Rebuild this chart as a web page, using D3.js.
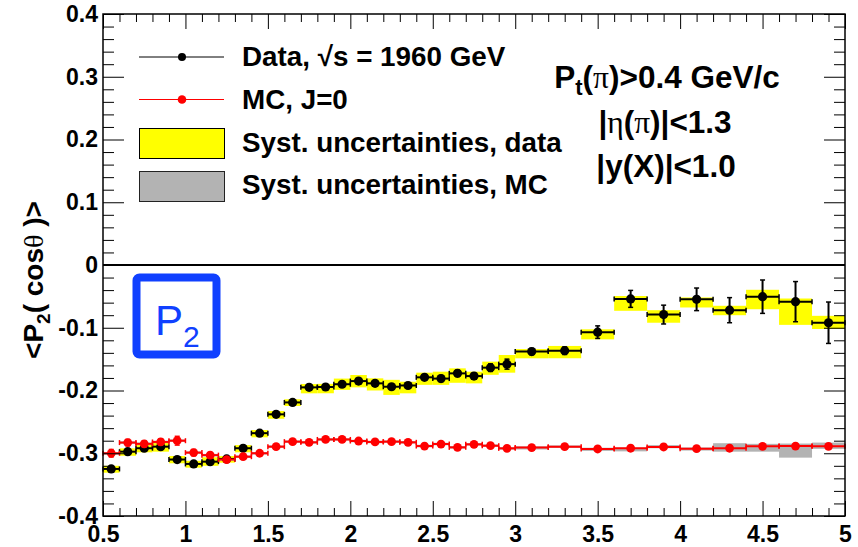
<!DOCTYPE html>
<html>
<head>
<meta charset="utf-8">
<script src="https://cdn.jsdelivr.net/npm/d3@7"></script>
<style>
  body { margin: 0; background: #fff; }
  svg { display: block; }
</style>
</head>
<body>
<div id="chart"></div>
<script>
// bin edges (0.1 wide up to 3.0, then 0.2 wide)
const binEdges = [0.5, 0.6, 0.7, 0.8, 0.9, 1.0, 1.1, 1.2, 1.3, 1.4, 1.5, 1.6, 1.7, 1.8, 1.9, 2.0,
    2.1, 2.2, 2.3, 2.4, 2.5, 2.6, 2.7, 2.8, 2.9, 3.0, 3.2, 3.4, 3.6, 3.8, 4.0, 4.2, 4.4, 4.6, 4.8, 5.0];

// data, sqrt(s) = 1960 GeV
const dataY = [-0.325, -0.2975, -0.292, -0.2895, -0.310, -0.317, -0.3134, -0.309, -0.292, -0.268,
    -0.238, -0.219, -0.195, -0.1944, -0.190, -0.185, -0.1886, -0.194, -0.192, -0.179,
    -0.181, -0.1727, -0.177, -0.1636, -0.158, -0.138, -0.1366, -0.107, -0.054, -0.079,
    -0.0547, -0.072, -0.0505, -0.0584, -0.092];
const dataStat = [0.004, 0.004, 0.004, 0.004, 0.004, 0.004, 0.004, 0.004, 0.004, 0.004,
    0.004, 0.004, 0.004, 0.004, 0.004, 0.004, 0.004, 0.004, 0.004, 0.004,
    0.005, 0.005, 0.005, 0.006, 0.008, 0.005, 0.006, 0.010, 0.0135, 0.015,
    0.018, 0.020, 0.0266, 0.032, 0.033];
const dataSysUp = [0.005, 0.0053, 0.006, 0.006, 0.0056, 0.005, 0.007, 0.0045, 0.005, 0.005,
    0.0053, 0.005, 0.0054, 0.005, 0.009, 0.0097, 0.008, 0.011, 0.006, 0.0074,
    0.011, 0.008, 0.007, 0.0096, 0.0146, 0.004, 0.0076, 0.0045, 0.0046, 0.007,
    0.003, 0.007, 0.011, 0.005, 0.011];
const dataSysDn = [0.006, 0.0065, 0.0065, 0.008, 0.006, 0.006, 0.0066, 0.006, 0.0065, 0.0066,
    0.007, 0.0057, 0.0095, 0.010, 0.009, 0.010, 0.0114, 0.013, 0.0125, 0.012,
    0.010, 0.015, 0.0116, 0.0114, 0.0136, 0.0107, 0.012, 0.0115, 0.019, 0.013,
    0.013, 0.008, 0.020, 0.037, 0.010];

// MC, J=0
const mcY = [-0.300, -0.283, -0.285, -0.282, -0.280, -0.299, -0.303, -0.310, -0.3055, -0.300,
    -0.2895, -0.2815, -0.2826, -0.278, -0.278, -0.2805, -0.282, -0.2815, -0.2826, -0.2885,
    -0.2853, -0.2906, -0.2858, -0.288, -0.2922, -0.291, -0.2895, -0.2932, -0.292, -0.290,
    -0.2927, -0.292, -0.289, -0.2885, -0.289];
const mcStat = [0.006, 0.005, 0.005, 0.005, 0.007, 0.005, 0.004, 0.004, 0.004, 0.004,
    0.004, 0.003, 0.003, 0.003, 0.003, 0.003, 0.003, 0.003, 0.003, 0.003,
    0.003, 0.003, 0.003, 0.003, 0.003, 0.003, 0.003, 0.003, 0.003, 0.003,
    0.003, 0.003, 0.003, 0.003, 0.003];
const mcSysUp = [0.002, 0.002, 0.002, 0.002, 0.002, 0.002, 0.002, 0.002, 0.002, 0.002,
    0.002, 0.002, 0.002, 0.002, 0.002, 0.002, 0.002, 0.002, 0.002, 0.002,
    0.002, 0.002, 0.002, 0.002, 0.002, 0.002, 0.002, 0.002, 0.001, 0.003,
    0.002, 0.008, 0.004, 0.004, 0.006];
const mcSysDn = [0.002, 0.002, 0.002, 0.002, 0.002, 0.002, 0.002, 0.002, 0.002, 0.002,
    0.002, 0.002, 0.002, 0.002, 0.002, 0.002, 0.002, 0.002, 0.002, 0.002,
    0.002, 0.002, 0.002, 0.002, 0.002, 0.003, 0.002, 0.003, 0.005, 0.002,
    0.003, 0.0055, 0.0085, 0.0185, 0.004];

const xTicks = [0.5, 1, 1.5, 2, 2.5, 3, 3.5, 4, 4.5, 5];
const xTickLabels = ["0.5", "1", "1.5", "2", "2.5", "3", "3.5", "4", "4.5", "5"];
const yTicks = [-0.4, -0.3, -0.2, -0.1, 0, 0.1, 0.2, 0.3, 0.4];
const yTickLabels = ["-0.4", "-0.3", "-0.2", "-0.1", "0", "0.1", "0.2", "0.3", "0.4"];

const W = 858, H = 547;
const margin = {top: 14, right: 13, bottom: 31, left: 103},
    width = W - margin.left - margin.right,
    height = H - margin.top - margin.bottom;

const sans = "'Liberation Sans', Arial, Helvetica, sans-serif";
const serif = "'Liberation Serif', 'DejaVu Serif', serif";

const svg = d3.select("#chart").append("svg")
    .attr("width", W)
    .attr("height", H);

const g = svg.append("g")
    .attr("transform", `translate(${margin.left},${margin.top})`);

const x = d3.scaleLinear().domain([0.5, 5]).range([0, width]);
const y = d3.scaleLinear().domain([-0.4, 0.4]).range([height, 0]);

const bins = dataY.map((v, i) => ({
    lo: binEdges[i], hi: binEdges[i + 1], c: (binEdges[i] + binEdges[i + 1]) / 2,
    d: v, ds: dataStat[i], dup: dataSysUp[i], ddn: dataSysDn[i],
    m: mcY[i], ms: mcStat[i], mup: mcSysUp[i], mdn: mcSysDn[i]
}));

// systematic boxes
g.selectAll("rect.sysdata").data(bins).enter().append("rect")
    .attr("x", d => x(d.lo))
    .attr("width", d => x(d.hi) - x(d.lo))
    .attr("y", d => y(d.d + d.dup))
    .attr("height", d => y(d.d - d.ddn) - y(d.d + d.dup))
    .attr("fill", "#ffff00");

g.selectAll("rect.sysmc").data(bins).enter().append("rect")
    .attr("x", d => x(d.lo))
    .attr("width", d => x(d.hi) - x(d.lo))
    .attr("y", d => y(d.m + d.mup))
    .attr("height", d => y(d.m - d.mdn) - y(d.m + d.mup))
    .attr("fill", "#b3b3b3");

// zero line
g.append("line")
    .attr("x1", 0).attr("x2", width)
    .attr("y1", y(0)).attr("y2", y(0))
    .attr("stroke", "#000").attr("stroke-width", 2);

function drawPoints(key, errKey, color, r) {
    const grp = g.append("g");
    const pts = grp.selectAll("g").data(bins).enter().append("g");
    // horizontal bar
    pts.append("line")
        .attr("x1", d => x(d.lo)).attr("x2", d => x(d.hi))
        .attr("y1", d => y(d[key])).attr("y2", d => y(d[key]))
        .attr("stroke", color).attr("stroke-width", 2);
    pts.append("line")
        .attr("x1", d => x(d.lo)).attr("x2", d => x(d.lo))
        .attr("y1", d => y(d[key]) - 2.5).attr("y2", d => y(d[key]) + 2.5)
        .attr("stroke", color).attr("stroke-width", 1.5);
    pts.append("line")
        .attr("x1", d => x(d.hi)).attr("x2", d => x(d.hi))
        .attr("y1", d => y(d[key]) - 2.5).attr("y2", d => y(d[key]) + 2.5)
        .attr("stroke", color).attr("stroke-width", 1.5);
    // vertical bar
    pts.append("line")
        .attr("x1", d => x(d.c)).attr("x2", d => x(d.c))
        .attr("y1", d => y(d[key] - d[errKey])).attr("y2", d => y(d[key] + d[errKey]))
        .attr("stroke", color).attr("stroke-width", 2);
    [-1, 1].forEach(s => {
        pts.append("line")
            .attr("x1", d => x(d.c) - 2.5).attr("x2", d => x(d.c) + 2.5)
            .attr("y1", d => y(d[key] + s * d[errKey])).attr("y2", d => y(d[key] + s * d[errKey]))
            .attr("stroke", color).attr("stroke-width", 1.5);
    });
    pts.append("circle")
        .attr("cx", d => x(d.c)).attr("cy", d => y(d[key]))
        .attr("r", r).attr("fill", color);
}

drawPoints("d", "ds", "#000", 4.6);
drawPoints("m", "ms", "#ff0000", 4.4);

// axes, ROOT style ticks pointing inwards
function styleAxis(sel) {
    sel.select(".domain").remove();
    sel.selectAll(".tick line").attr("stroke", "#000").attr("stroke-width", 1);
    sel.selectAll("text")
        .attr("font-family", sans)
        .attr("font-weight", "bold")
        .attr("font-size", 23)
        .attr("fill", "#000");
}

const xMinor = d3.range(5, 51).map(v => v / 10).filter(v => !xTicks.some(t => Math.abs(t - v) < 1e-6));
const yMinor = d3.range(-20, 21).map(v => v / 50).filter(v => !yTicks.some(t => Math.abs(t - v) < 1e-6));

g.append("g").attr("transform", `translate(0,${height})`)
    .call(d3.axisBottom(x).tickValues(xTicks).tickSize(-15).tickPadding(10)
        .tickFormat((d, i) => xTickLabels[i]))
    .call(styleAxis);
g.append("g").attr("transform", `translate(0,${height})`)
    .call(d3.axisBottom(x).tickValues(xMinor).tickSize(-8).tickFormat(""))
    .call(styleAxis);
g.append("g")
    .call(d3.axisTop(x).tickValues(xTicks).tickSize(-15).tickFormat(""))
    .call(styleAxis);
g.append("g")
    .call(d3.axisTop(x).tickValues(xMinor).tickSize(-8).tickFormat(""))
    .call(styleAxis);

g.append("g")
    .call(d3.axisLeft(y).tickValues(yTicks).tickSize(-21).tickPadding(5)
        .tickFormat((d, i) => yTickLabels[i]))
    .call(styleAxis);
g.append("g")
    .call(d3.axisLeft(y).tickValues(yMinor).tickSize(-11).tickFormat(""))
    .call(styleAxis);
g.append("g").attr("transform", `translate(${width},0)`)
    .call(d3.axisRight(y).tickValues(yTicks).tickSize(-21).tickFormat(""))
    .call(styleAxis);
g.append("g").attr("transform", `translate(${width},0)`)
    .call(d3.axisRight(y).tickValues(yMinor).tickSize(-11).tickFormat(""))
    .call(styleAxis);

// frame
g.append("rect")
    .attr("width", width).attr("height", height)
    .attr("fill", "none").attr("stroke", "#000").attr("stroke-width", 1.5);

// y title
const yt = svg.append("text")
    .attr("transform", "translate(43,280) rotate(-90)")
    .attr("text-anchor", "middle")
    .attr("font-family", sans).attr("font-weight", "bold").attr("font-size", 28);
yt.append("tspan").text("<P");
yt.append("tspan").attr("dy", 7).attr("font-size", 19).text("2");
yt.append("tspan").attr("dy", -7).text("( cos");
yt.append("tspan").attr("font-family", serif).attr("font-weight", "normal").text("θ");
yt.append("tspan").text(" )>");

// legend
const leg = svg.append("g");
leg.append("line").attr("x1", 139).attr("x2", 224).attr("y1", 57).attr("y2", 57)
    .attr("stroke", "#000").attr("stroke-width", 1);
leg.append("circle").attr("cx", 182).attr("cy", 57).attr("r", 4).attr("fill", "#000");
leg.append("line").attr("x1", 139).attr("x2", 224).attr("y1", 99.5).attr("y2", 99.5)
    .attr("stroke", "#ff0000").attr("stroke-width", 1);
leg.append("circle").attr("cx", 182).attr("cy", 99.5).attr("r", 4.3).attr("fill", "#ff0000");
leg.append("rect").attr("x", 139.5).attr("y", 128.5).attr("width", 85).attr("height", 30)
    .attr("fill", "#ffff00").attr("stroke", "#000").attr("stroke-width", 1);
leg.append("rect").attr("x", 139.5).attr("y", 171.5).attr("width", 85).attr("height", 30)
    .attr("fill", "#b3b3b3").attr("stroke", "#222").attr("stroke-width", 1);

const legText = [
    {y: 66, t: "Data, √s = 1960 GeV"},
    {y: 109, t: "MC, J=0"},
    {y: 152, t: "Syst. uncertainties, data"},
    {y: 194, t: "Syst. uncertainties, MC"}
];
leg.selectAll("text").data(legText).enter().append("text")
    .attr("x", 242).attr("y", d => d.y)
    .attr("font-family", sans).attr("font-weight", "bold").attr("font-size", 27.8)
    .text(d => d.t);

// cuts text
const cuts = svg.append("g").attr("font-family", sans).attr("font-weight", "bold")
    .attr("font-size", 31.5).attr("text-anchor", "middle");
const c1 = cuts.append("text").attr("x", 667).attr("y", 88);
c1.append("tspan").text("P");
c1.append("tspan").attr("dy", 7).attr("font-size", 22).text("t");
c1.append("tspan").attr("dy", -7).text("(");
c1.append("tspan").attr("font-family", serif).attr("font-weight", "normal").text("π");
c1.append("tspan").text(")>0.4 GeV/c");
const c2 = cuts.append("text").attr("x", 665).attr("y", 133);
c2.append("tspan").text("|");
c2.append("tspan").attr("font-family", serif).attr("font-weight", "normal").text("η");
c2.append("tspan").text("(");
c2.append("tspan").attr("font-family", serif).attr("font-weight", "normal").text("π");
c2.append("tspan").text(")|<1.3");
cuts.append("text").attr("x", 666).attr("y", 177).text("|y(X)|<1.0");

// P2 label box
svg.append("rect")
    .attr("x", 136.5).attr("y", 277.5).attr("width", 80).attr("height", 77).attr("rx", 3)
    .attr("fill", "none").attr("stroke", "#1040ff").attr("stroke-width", 8);
const p2 = svg.append("text").attr("x", 155).attr("y", 335)
    .attr("font-family", sans).attr("font-size", 42).attr("fill", "#1040ff");
p2.append("tspan").text("P");
p2.append("tspan").attr("dy", 12).attr("font-size", 30).text("2");
</script>
</body>
</html>
